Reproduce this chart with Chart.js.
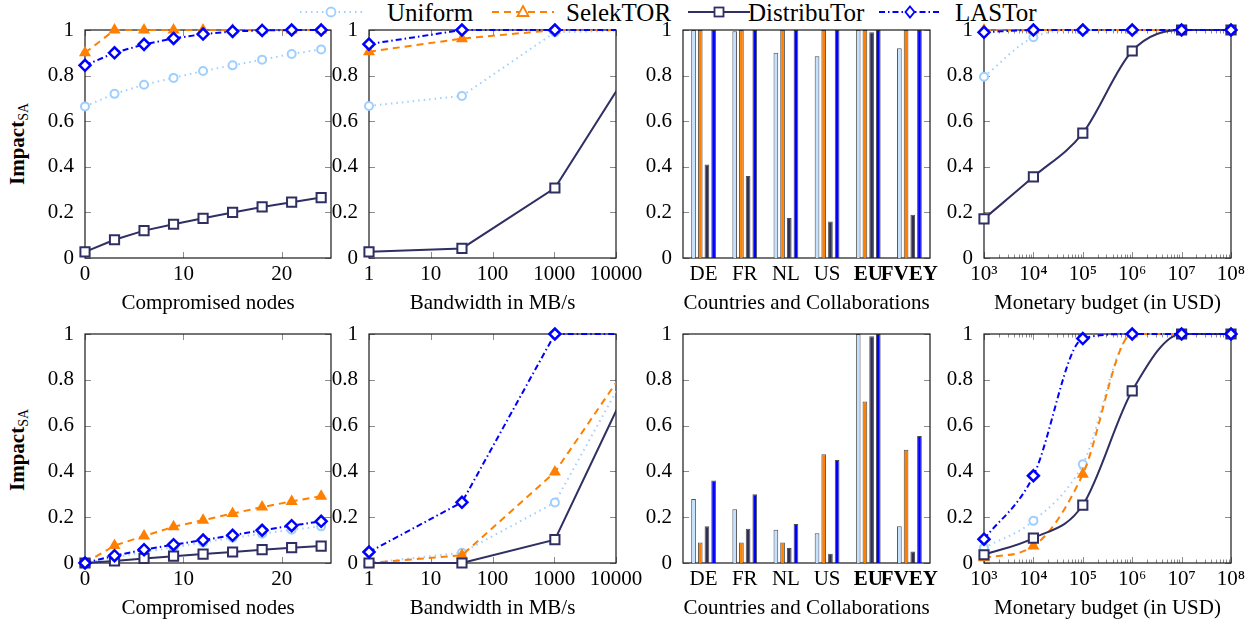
<!DOCTYPE html>
<html>
<head>
<meta charset="utf-8">
<script src="https://cdn.jsdelivr.net/npm/chart.js@4.4.1/dist/chart.umd.min.js"></script>
<style>
  body { margin: 0; background: #fff; width: 1256px; height: 621px; position: relative; overflow: hidden;
         font-family: "Liberation Serif", "Times New Roman", serif; color: #000; }
  canvas { position: absolute; }
  .ylab { position: absolute; transform: translate(-50%, -50%) rotate(-90deg); font-size: 21px; white-space: nowrap; }
  .ylab b { font-weight: bold; }
  .ylab sub { font-size: 14px; vertical-align: -4px; }
  .leg { position: absolute; top: 0; height: 25px; }
  .legtxt { position: absolute; top: 0; font-size: 25px; line-height: 25px; white-space: nowrap; }
</style>
</head>
<body>
<div class="ylab" style="left:18px;top:144px"><b>Impact</b><sub>SA</sub></div>
<div class="ylab" style="left:18px;top:450px"><b>Impact</b><sub>SA</sub></div>
<div id="legend"></div>
<canvas id="c0"></canvas><canvas id="c1"></canvas><canvas id="c2"></canvas><canvas id="c3"></canvas>
<canvas id="c4"></canvas><canvas id="c5"></canvas><canvas id="c6"></canvas><canvas id="c7"></canvas>
<script>
// ---- data ----
const nodes = [0, 3, 6, 9, 12, 15, 18, 21, 24];
const bandwidth = [1, 32, 1024, 32768];
const budget = [1e3, 1e4, 1e5, 1e6, 1e7, 1e8];
const regions = ["DE", "FR", "NL", "US", "EU", "FVEY"];
const boldRegions = ["EU", "FVEY"];

const yTicks = [0, 0.2, 0.4, 0.6, 0.8, 1];
const nodeTicks = [0, 10, 20];
const bandwidthTicks = [1, 10, 100, 1000, 10000];

// top row
const nodesUniformTop = [0.665, 0.72, 0.76, 0.79, 0.82, 0.845, 0.87, 0.895, 0.915];
const nodesSelekTop = [0.9, 1, 1, 1, 1, 1, 1, 1, 1];
const nodesDistribTop = [0.027, 0.08, 0.12, 0.148, 0.174, 0.2, 0.224, 0.245, 0.265];
const nodesLastorTop = [0.845, 0.9, 0.937, 0.963, 0.982, 0.994, 0.998, 1, 1];

const bwUniformTop = [0.667, 0.711, 0.99, 1];
const bwSelekTop = [0.905, 0.962, 1, 1];
const bwDistribTop = [0.027, 0.042, 0.307, 0.95];
const bwLastorTop = [0.938, 1, 1, 1];

const regionUniformTop = [1, 0.995, 0.9, 0.885, 1, 0.92];
const regionSelekTop = [1, 1, 1, 1, 1, 1];
const regionDistribTop = [0.41, 0.36, 0.175, 0.16, 0.99, 0.19];
const regionLastorTop = [1, 1, 1, 1, 1, 1];

const budgetUniformTop = [0.795, 0.968, 1, 1, 1, 1];
const budgetSelekTop = [1, 1, 1, 1, 1, 1];
const budgetDistribTop = [0.172, 0.356, 0.548, 0.908, 1, 1];
const budgetLastorTop = [0.99, 1, 1, 1, 1, 1];

// bottom row
const nodesUniformBot = [0, 0.025, 0.048, 0.068, 0.09, 0.11, 0.128, 0.145, 0.16];
const nodesSelekBot = [0, 0.076, 0.118, 0.158, 0.187, 0.216, 0.244, 0.269, 0.292];
const nodesDistribBot = [0, 0.009, 0.02, 0.03, 0.039, 0.048, 0.058, 0.067, 0.074];
const nodesLastorBot = [0, 0.032, 0.058, 0.08, 0.1, 0.121, 0.143, 0.163, 0.182];

const bwUniformBot = [0, 0.045, 0.264, 1];
const bwSelekBot = [0, 0.034, 0.397, 0.99];
const bwDistribBot = [0, 0, 0.102, 0.955];
const bwLastorBot = [0.048, 0.265, 1, 1];

const regionUniformBot = [0.28, 0.235, 0.145, 0.13, 1, 0.16];
const regionSelekBot = [0.09, 0.09, 0.09, 0.475, 0.705, 0.495];
const regionDistribBot = [0.16, 0.15, 0.065, 0.04, 0.99, 0.05];
const regionLastorBot = [0.36, 0.3, 0.17, 0.45, 1, 0.555];

const budgetUniformBot = [0.066, 0.184, 0.431, 1, 1, 1];
const budgetSelekBot = [0.023, 0.074, 0.388, 1, 1, 1];
const budgetDistribBot = [0.036, 0.109, 0.253, 0.752, 1, 1];
const budgetLastorBot = [0.104, 0.381, 0.98, 1, 1, 1];

// ---- styles ----
const series = [
  { label: "Uniform", color: "#9fcfff", bar: "#c4e2ff", dash: [1.5, 4], point: "circle", radius: 4, pw: 2, fill: "#fff" },
  { label: "SelekTOR", color: "#ff8000", bar: "#ff8000", dash: [7, 5], point: "triangle", radius: 5.5, pw: 1.5, fill: "#ff8000" },
  { label: "DistribuTor", color: "#2f2f63", bar: "#2f2f55", dash: [], point: "rect", radius: 6.5, pw: 2, fill: "#fff" },
  { label: "LASTor", color: "#0000ff", bar: "#0000ff", dash: [6, 3, 1.5, 3], point: "rectRot", radius: 5.5, pw: 2.5, fill: "#fff" },
];
const legendPos = [[300, 387], [492, 566], [688, 748], [879, 955]];

const SERIF = '"Liberation Serif", "Times New Roman", serif';
Chart.defaults.font.family = SERIF;
Chart.defaults.color = "#000";
const FONT = { family: SERIF, size: 21 };
const PT = 20, PR = 34, YW = 56, XH = 62;
const cols = [{ left: 85, w: 246 }, { left: 369, w: 247 }, { left: 683, w: 247 }, { left: 984, w: 247 }];
const rows = [{ top: 30, h: 228 }, { top: 334, h: 229 }];

// legend
const legend = document.getElementById("legend");
series.forEach((s, i) => {
  const [sx, tx] = legendPos[i];
  let mark;
  if (s.point === "circle") mark = `<circle cx="31" cy="12" r="4.5"/>`;
  else if (s.point === "triangle") mark = `<polygon points="31,6 36.5,16 25.5,16"/>`;
  else if (s.point === "rect") mark = `<rect x="26.5" y="7.5" width="9" height="9"/>`;
  else mark = `<polygon points="31,6.5 35.5,12 31,17.5 26.5,12"/>`;
  legend.insertAdjacentHTML("beforeend",
    `<svg class="leg" style="left:${sx}px" width="62" height="25">
       <line x1="0" y1="12" x2="62" y2="12" stroke="${s.color}" stroke-width="2" stroke-dasharray="${s.dash.join(" ")}"/>
       <g fill="#fff" stroke="${s.color}" stroke-width="1.8">${mark}</g></svg>
     <div class="legtxt" style="left:${tx}px">${s.label}</div>`);
});

// frame + inner tick marks
const framePlugin = {
  id: "frame",
  beforeDatasetsDraw(chart) {
    const { ctx, chartArea: a, scales: { x, y } } = chart;
    const seg = (x1, y1, x2, y2) => { ctx.beginPath(); ctx.moveTo(x1, y1); ctx.lineTo(x2, y2); ctx.stroke(); };
    ctx.save();
    ctx.lineWidth = 1;
    ctx.strokeStyle = "#8c8c8c";
    y.ticks.forEach(t => {
      const p = Math.round(y.getPixelForValue(t.value)) + 0.5;
      seg(a.left, p, a.left + 6, p);
      seg(a.right - 6, p, a.right, p);
    });
    if (x.type !== "category") {
      x.ticks.forEach(t => {
        const p = Math.round(x.getPixelForValue(t.value)) + 0.5;
        const len = t.label === "" ? 3.5 : 6;
        seg(p, a.top, p, a.top + len);
        seg(p, a.bottom - len, p, a.bottom);
      });
    }
    ctx.strokeStyle = "#1a1a1a";
    ctx.lineWidth = 1.2;
    ctx.strokeRect(a.left, a.top, a.width, a.height);
    ctx.restore();
  }
};

function yScale() {
  return {
    min: 0, max: 1,
    afterBuildTicks: s => { s.ticks = yTicks.map(v => ({ value: v })); },
    afterFit: s => { s.width = YW; },
    grid: { display: false }, border: { display: false },
    ticks: { font: FONT, color: "#000", padding: 3, callback: v => String(v) }
  };
}

function xBase(title) {
  return {
    afterFit: s => { s.height = XH; },
    grid: { display: false }, border: { display: false },
    title: { display: true, text: title, font: FONT, color: "#000", padding: { top: 4, bottom: 4 } },
    ticks: { font: FONT, color: "#000", padding: -4, autoSkip: false, maxRotation: 0, callback: v => String(v) }
  };
}

const sup = { "3": "³", "4": "⁴", "5": "⁵", "6": "⁶", "7": "⁷", "8": "⁸" };
const xNodes = () => Object.assign(xBase("Compromised nodes"), {
  type: "linear", min: 0, max: 25,
  afterBuildTicks: s => { s.ticks = nodeTicks.map(v => ({ value: v })); }
});
const xBandwidth = () => Object.assign(xBase("Bandwidth in MB/s"), {
  type: "logarithmic", min: 1, max: 10000,
  afterBuildTicks: s => { s.ticks = bandwidthTicks.map(v => ({ value: v })); }
});
const xBudget = () => {
  const b = Object.assign(xBase("Monetary budget (in USD)"), {
    type: "logarithmic", min: 1e3, max: 1e8,
    afterBuildTicks: s => {
      const t = [];
      for (let e = 3; e < 8; e++) for (let m = 1; m < 10; m++) t.push({ value: m * Math.pow(10, e) });
      t.push({ value: 1e8 });
      s.ticks = t;
    }
  });
  b.ticks.callback = v => {
    const e = Math.round(Math.log10(v));
    return Math.abs(v - Math.pow(10, e)) < 1e-6 * v ? "10" + sup[String(e)] : "";
  };
  return b;
};
const xRegions = () => {
  const b = Object.assign(xBase("Countries and Collaborations"), { type: "category" });
  b.ticks.callback = (v, i) => regions[i];
  b.ticks.font = c => Object.assign({}, FONT, { weight: boldRegions.includes(regions[c.index]) ? "bold" : "normal" });
  return b;
};

function lineSets(xs, ys, smooth, clipRight) {
  return series.map((s, i) => ({
    label: s.label,
    data: xs.map((x, j) => ({ x, y: ys[i][j] })),
    borderColor: s.color, borderWidth: 2, borderDash: s.dash,
    pointStyle: s.point, pointRadius: s.radius, pointBorderWidth: s.pw,
    pointBackgroundColor: s.fill, pointBorderColor: s.color,
    cubicInterpolationMode: smooth ? "monotone" : "default", tension: 0,
    order: series.length - i, fill: false,
    clip: { left: 12, top: 12, right: clipRight, bottom: 12 }
  }));
}

function barSets(ys) {
  return series.map((s, i) => ({
    label: s.label, data: ys[i],
    backgroundColor: s.bar, borderColor: "rgba(20,20,20,0.75)", borderWidth: 1,
    categoryPercentage: 0.65, barPercentage: 0.7
  }));
}

function makeChart(idx, col, row, type, data, xScale) {
  const cv = document.getElementById("c" + idx);
  const w = YW + col.w + PR, h = PT + row.h + XH;
  cv.width = w; cv.height = h;
  cv.style.left = (col.left - YW) + "px";
  cv.style.top = (row.top - PT) + "px";
  cv.style.width = w + "px"; cv.style.height = h + "px";
  return new Chart(cv.getContext("2d"), {
    type, data,
    options: {
      responsive: false, animation: false, devicePixelRatio: 1,
      layout: { padding: { top: PT, right: PR, left: 0, bottom: 0 } },
      plugins: { legend: { display: false }, tooltip: { enabled: false } },
      scales: { x: xScale, y: yScale() }
    },
    plugins: [framePlugin]
  });
}

const rowTop = rows[0], rowBot = rows[1];
makeChart(0, cols[0], rowTop, "line", { datasets: lineSets(nodes, [nodesUniformTop, nodesSelekTop, nodesDistribTop, nodesLastorTop], false, 12) }, xNodes());
makeChart(1, cols[1], rowTop, "line", { datasets: lineSets(bandwidth, [bwUniformTop, bwSelekTop, bwDistribTop, bwLastorTop], false, 0) }, xBandwidth());
makeChart(2, cols[2], rowTop, "bar", { labels: regions, datasets: barSets([regionUniformTop, regionSelekTop, regionDistribTop, regionLastorTop]) }, xRegions());
makeChart(3, cols[3], rowTop, "line", { datasets: lineSets(budget, [budgetUniformTop, budgetSelekTop, budgetDistribTop, budgetLastorTop], true, 12) }, xBudget());

makeChart(4, cols[0], rowBot, "line", { datasets: lineSets(nodes, [nodesUniformBot, nodesSelekBot, nodesDistribBot, nodesLastorBot], false, 12) }, xNodes());
makeChart(5, cols[1], rowBot, "line", { datasets: lineSets(bandwidth, [bwUniformBot, bwSelekBot, bwDistribBot, bwLastorBot], false, 0) }, xBandwidth());
makeChart(6, cols[2], rowBot, "bar", { labels: regions, datasets: barSets([regionUniformBot, regionSelekBot, regionDistribBot, regionLastorBot]) }, xRegions());
makeChart(7, cols[3], rowBot, "line", { datasets: lineSets(budget, [budgetUniformBot, budgetSelekBot, budgetDistribBot, budgetLastorBot], true, 12) }, xBudget());
</script>
</body>
</html>
